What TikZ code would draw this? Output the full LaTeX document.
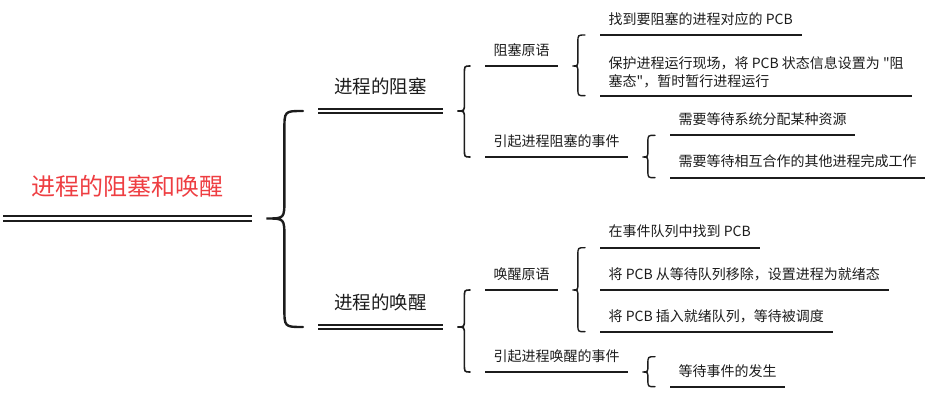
\documentclass[tikz,border=0pt]{standalone}
\usepackage{fontspec}
\setmainfont{Noto Sans CJK SC}[Ligatures=TeXOff]
\usepackage{xcolor}
\usetikzlibrary{calc}

\definecolor{rootred}{RGB}{238,62,66}
\definecolor{inkgray}{RGB}{28,28,28}

% curly brace from a parent's underline to its children's underlines
% #1 style, #2 parent, #3 top end, #4 bottom end, #5 stem offset, #6 curl radius
\newcommand{\mmbrace}[6][brc]{%
  \draw[#1] let \p1 = ($(#2.south east)+(14,0)$), \p2 = #3, \p3 = #4 in
    ({\x2-15pt},\y2) .. controls ({\x1+#5},\y2) .. ({\x1+#5},{\y2-#6})
    -- ({\x1+#5},{\y1+#6}) .. controls ({\x1+#5},\y1) .. (\x1,\y1)
    .. controls ({\x1+#5},\y1) .. ({\x1+#5},{\y1-#6})
    -- ({\x1+#5},{\y3+#6}) .. controls ({\x1+#5},\y3) .. ({\x3-15pt},\y3);
}

\begin{document}
\begin{tikzpicture}[
  x=1pt, y=-1pt,
  every node/.style = {text=inkgray, anchor=south west},
  rootnode/.style   = {font=\fontsize{24}{28}\selectfont, text=rootred,
                       inner xsep=28.5pt, inner ysep=18pt,
                       text height=19pt, text depth=5pt},
  midnode/.style    = {font=\fontsize{18.5}{22}\selectfont,
                       inner xsep=16.25pt, inner ysep=13pt,
                       text height=14.5pt, text depth=4pt},
  leaf/.style       = {font=\fontsize{14}{18}\selectfont,
                       inner xsep=8.5pt, inner ysep=7.5pt,
                       text height=11pt, text depth=3pt},
  uline/.style      = {draw=inkgray, line width=1.8pt},
  dline/.style      = {draw=inkgray, double, line width=1.6pt, double distance=2.4pt},
  brc/.style        = {draw=inkgray, line width=1.4pt, line cap=round},
]
\useasboundingbox (0,0) rectangle (939,403);

% ── Root ─────────────────────────────────────────────────────────────────
\node[rootnode] (root) at (3,218.5) {进程的阻塞和唤醒};
\draw[dline, line width=2pt, double distance=2.6pt] (root.south west) -- (root.south east);

% ── Level 1 ──────────────────────────────────────────────────────────────
\node[midnode] (m1) at (318,111) {进程的阻塞};
\node[midnode] (m2) at (318,327) {进程的唤醒};

% ── Level 2 ──────────────────────────────────────────────────────────────
\node[leaf] (b1) at (485,66)  {阻塞原语};
\node[leaf] (b2) at (485,157) {引起进程阻塞的事件};
\node[leaf] (w1) at (485,290) {唤醒原语};
\node[leaf] (w2) at (485,372) {引起进程唤醒的事件};

% ── Leaves ───────────────────────────────────────────────────────────────
\node[leaf] (l1) at (600,35)    {找到要阻塞的进程对应的 PCB};
\node[leaf, align=left, text height=, text depth=] (l2) at (600,95.7)
  {保护进程运行现场，将 PCB 状态信息设置为 "阻\\塞态"，暂时暂行进程运行};
\node[leaf] (l3) at (670,135.3) {需要等待系统分配某种资源};
\node[leaf] (l4) at (670,177.7) {需要等待相互合作的其他进程完成工作};
\node[leaf] (l5) at (600,247.7) {在事件队列中找到 PCB};
\node[leaf] (l6) at (600,290)   {将 PCB 从等待队列移除，设置进程为就绪态};
\node[leaf] (l7) at (600,331.7) {将 PCB 插入就绪队列，等待被调度};
\node[leaf] (l8) at (670,386.7) {等待事件的发生};

% underlines
\foreach \n in {m1,m2}
  \draw[dline] (\n.south west) -- (\n.south east);
\foreach \n in {b1,b2,w1,w2,l1,l2,l3,l4,l5,l6,l7,l8}
  \draw[uline] (\n.south west) -- (\n.south east);

% ── Braces ───────────────────────────────────────────────────────────────
\coordinate (w2top) at ($(l8.south west)+(0,-30)$);

\mmbrace[brc, line width=2.4pt]{root}{(m1.south west)}{(m2.south west)}{18pt}{19pt}
\mmbrace[brc, line width=1.6pt]{m1}{(b1.south west)}{(b2.south west)}{7pt}{8pt}
\mmbrace[brc, line width=1.6pt]{m2}{(w1.south west)}{(w2.south west)}{7pt}{8pt}
\mmbrace{b1}{(l1.south west)}{(l2.south west)}{5.5pt}{7pt}
\mmbrace{b2}{(l3.south west)}{(l4.south west)}{5.5pt}{7pt}
\mmbrace{w1}{(l5.south west)}{(l7.south west)}{5.5pt}{7pt}
\mmbrace{w2}{(w2top)}{(l8.south west)}{5.5pt}{7pt}

\end{tikzpicture}
\end{document}
